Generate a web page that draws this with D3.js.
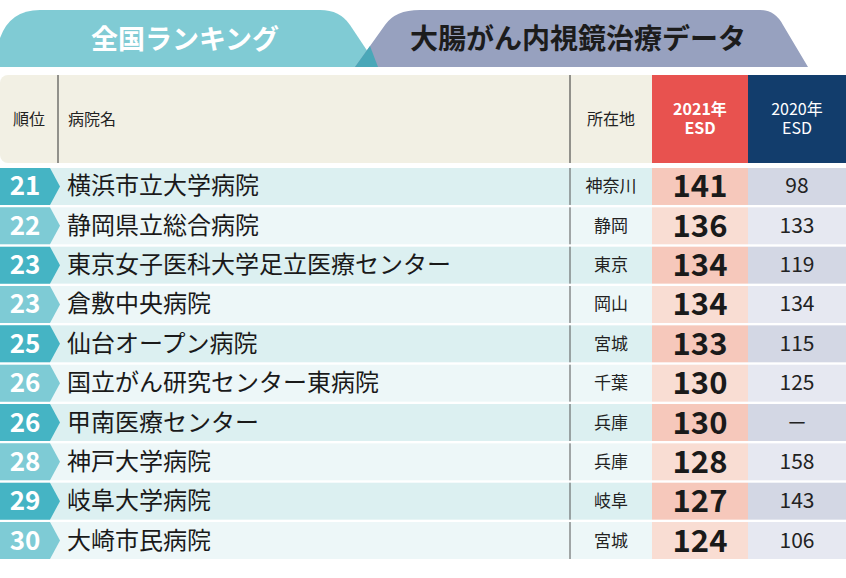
<!DOCTYPE html>
<html><head><meta charset="utf-8">
<script src="https://cdn.jsdelivr.net/npm/d3@7"></script>
<style>body{margin:0;background:#fff}svg{display:block}text{font-family:"Noto Sans CJK JP",sans-serif}.num{font-family:"Liberation Sans Narrow","Noto Sans CJK JP",sans-serif}</style>
</head><body><svg id="c" width="846" height="578"></svg>
<script>
const ranks=["21","22","23","23","25","26","26","28","29","30"];
const hospitals=["横浜市立大学病院","静岡県立総合病院","東京女子医科大学足立医療センター","倉敷中央病院","仙台オープン病院","国立がん研究センター東病院","甲南医療センター","神戸大学病院","岐阜大学病院","大崎市民病院"];
const locations=["神奈川","静岡","東京","岡山","宮城","千葉","兵庫","兵庫","岐阜","宮城"];
const esd2021=[141,136,134,134,133,130,130,128,127,124];
const esd2020=["98","133","119","134","115","125","－","158","143","106"];

const svg=d3.select("#c");
const y=d3.scaleBand().domain(d3.range(ranks.length)).range([168,559]).paddingInner(0.06);
const x={rank:0,name:58,loc:570,a:652,b:748,end:846};

svg.append("path").attr("d","M0,67 L0,38 Q10,10 40,10 L320,10 Q340,10 350,25 L378,67 Z").attr("fill","#80cbd4");
svg.append("path").attr("d","M355,67 L385,25 Q395,10 420,10 L760,10 Q775,10 783,25 L808,67 Z").attr("fill","#97a1bf");
svg.append("path").attr("d","M355,67 L370,46 L378,67 Z").attr("fill","#4aa7b8");
svg.append("text").attr("x",185).attr("y",49).attr("text-anchor","middle").attr("font-size",27).attr("font-weight",700).attr("fill","#fff").text("全国ランキング");
svg.append("text").attr("x",578).attr("y",49).attr("text-anchor","middle").attr("font-size",28).attr("font-weight",700).attr("fill","#1c1c1c").text("大腸がん内視鏡治療データ");

svg.append("rect").attr("x",0).attr("y",75).attr("width",662).attr("height",88).attr("rx",8).attr("fill","#f2f0e4");
svg.append("rect").attr("x",x.a).attr("y",75).attr("width",96).attr("height",88).attr("fill","#e8524f");
svg.append("rect").attr("x",x.b).attr("y",75).attr("width",98).attr("height",88).attr("fill","#123d6c");
[[x.name,75,163],[x.loc,75,163]].forEach(d=>svg.append("line").attr("x1",d[0]).attr("x2",d[0]).attr("y1",d[1]).attr("y2",d[2]).attr("stroke","#333").attr("stroke-width",1));
const hs=[["順位",29,"middle"],["病院名",68,"start"],["所在地",611,"middle"]];
hs.forEach(h=>svg.append("text").attr("x",h[1]).attr("y",125).attr("text-anchor",h[2]).attr("font-size",16).attr("fill","#222").text(h[0]));
[[x.a+48,"#fff",700],[x.b+49,"#fff",400]].forEach((c,i)=>{
 const t=svg.append("text").attr("x",c[0]).attr("text-anchor","middle").attr("font-size",16).attr("font-weight",c[2]).attr("fill",c[1]);
 t.append("tspan").attr("x",c[0]).attr("y",115).text(i?"2020年":"2021年");
 t.append("tspan").attr("x",c[0]).attr("y",134).text("ESD");
});

const rows=svg.selectAll("g.row").data(ranks).join("g").attr("class","row");
const h=y.bandwidth();
rows.append("rect").attr("x",0).attr("y",(d,i)=>y(i)).attr("width",x.a).attr("height",h).attr("fill",(d,i)=>i%2?"#edf7f8":"#dcf0f1");
rows.append("rect").attr("x",x.a).attr("y",(d,i)=>y(i)).attr("width",96).attr("height",h).attr("fill",(d,i)=>i%2?"#f9ddd3":"#f6c8bb");
rows.append("rect").attr("x",x.b).attr("y",(d,i)=>y(i)).attr("width",98).attr("height",h).attr("fill",(d,i)=>i%2?"#e6e8f1":"#d3d7e4");
rows.append("path").attr("d",(d,i)=>{const t=y(i),b=t+h;return `M0,${t} L50,${t} L60,${t+h/2} L50,${b} L0,${b} Z`;})
 .attr("fill",(d,i)=>i%2?"#7ecbd5":"#45b4c4");
rows.append("line").attr("x1",x.loc).attr("x2",x.loc).attr("y1",(d,i)=>y(i)).attr("y2",(d,i)=>y(i)+h).attr("stroke","#555");
rows.append("text").attr("x",25).attr("y",(d,i)=>y(i)+h/2+9).attr("text-anchor","middle").attr("font-size",26).attr("font-weight",700).attr("fill","#fff").text(d=>d);
rows.append("text").attr("x",67).attr("y",(d,i)=>y(i)+h/2+8).attr("font-size",24).attr("fill","#1a1a1a").text((d,i)=>hospitals[i]);
rows.append("text").attr("x",611).attr("y",(d,i)=>y(i)+h/2+6).attr("text-anchor","middle").attr("font-size",17).attr("fill","#222").text((d,i)=>locations[i]);
rows.append("text").attr("class","num").attr("x",x.a+48).attr("y",(d,i)=>y(i)+h/2+11).attr("text-anchor","middle").attr("font-size",31).attr("font-weight",700).attr("fill","#1a1a1a").text((d,i)=>esd2021[i]);
rows.append("text").attr("x",x.b+49).attr("y",(d,i)=>y(i)+h/2+7).attr("text-anchor","middle").attr("font-size",21).attr("fill","#222").text((d,i)=>esd2020[i]);
</script></body></html>
